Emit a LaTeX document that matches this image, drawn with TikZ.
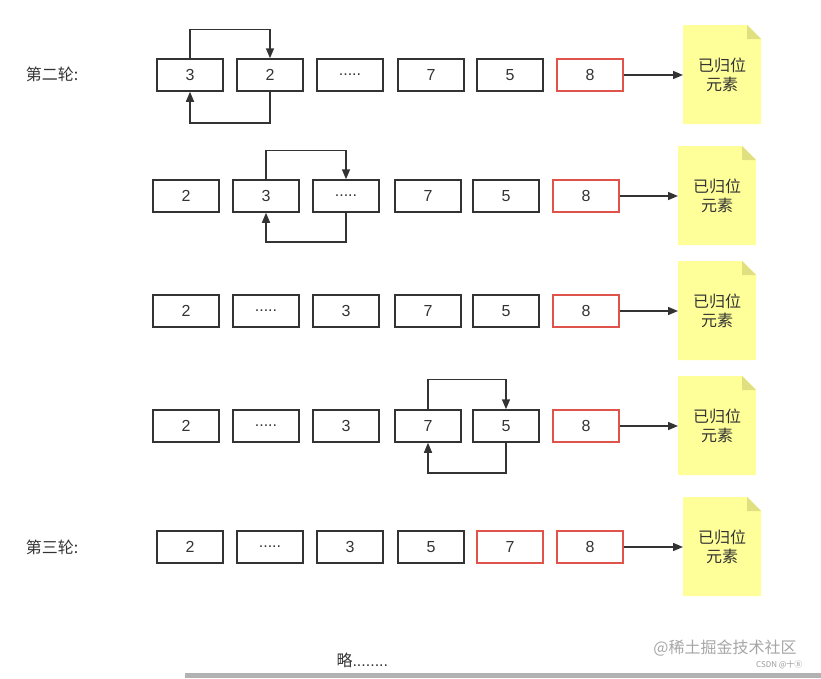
\documentclass[tikz,border=0pt]{standalone}
\usepackage{fontspec}
\setmainfont{Noto Sans CJK SC}
\newfontfamily\latinf{Liberation Sans}
\usetikzlibrary{arrows.meta}
\definecolor{notey}{HTML}{FFFF99}
\definecolor{notefold}{HTML}{E0E080}
\definecolor{redb}{HTML}{E0534A}
\tikzset{
 cell/.style={draw=black!80,line width=1.5pt,minimum width=66pt,minimum height=32pt,inner sep=0pt,font=\latinf\fontsize{16}{18}\selectfont,text=black!80},
 redcell/.style={cell,draw=redb},
 arr/.style={-{Triangle[length=10pt,width=8pt]},line width=1.5pt,draw=black!80},
 lbl/.style={font=\fontsize{16}{19}\selectfont,text=black!80}
}
\newcommand{\notebox}[3]{% name, left x, top y
 \fill[notey] (#2,#3) -- (#2+64,#3) -- (#2+78,#3+14) -- (#2+78,#3+99) -- (#2,#3+99) -- cycle;
 \fill[notefold] (#2+64,#3) -- (#2+78,#3+14) -- (#2+64,#3+14) -- cycle;
 \node[lbl,align=center] (#1) at (#2+39,#3+50) {已归位\\元素};
 \coordinate (#1w) at (#2,#3+50);
}
\begin{document}
\begin{tikzpicture}[x=1pt,y=-1pt]
\useasboundingbox (0,0) rectangle (821,678);
% Row 1
\node[lbl] (l1) at (52,74) {第二轮:};
\node[cell] (a1) at (190,75) {3};
\node[cell] (a2) at (270,75) {2};
\node[cell] (a3) at (350,75) {.....};
\node[cell] (a4) at (431,75) {7};
\node[cell] (a5) at (510,75) {5};
\node[redcell] (a6) at (590,75) {8};
\notebox{n1}{683}{25}
\draw[arr] (a6.east) -- (n1w);
\draw[arr] (a1.north) -- ++(0,-29) -| (a2.north);
\draw[arr] (a2.south) -- ++(0,31) -| (a1.south);
% Row 2
\node[cell] (b1) at (186,196) {2};
\node[cell] (b2) at (266,196) {3};
\node[cell] (b3) at (346,196) {.....};
\node[cell] (b4) at (428,196) {7};
\node[cell] (b5) at (506,196) {5};
\node[redcell] (b6) at (586,196) {8};
\notebox{n2}{678}{146}
\draw[arr] (b6.east) -- (n2w);
\draw[arr] (b2.north) -- ++(0,-29) -| (b3.north);
\draw[arr] (b3.south) -- ++(0,29) -| (b2.south);
% Row 3
\node[cell] (c1) at (186,311) {2};
\node[cell] (c2) at (266,311) {.....};
\node[cell] (c3) at (346,311) {3};
\node[cell] (c4) at (428,311) {7};
\node[cell] (c5) at (506,311) {5};
\node[redcell] (c6) at (586,311) {8};
\notebox{n3}{678}{261}
\draw[arr] (c6.east) -- (n3w);
% Row 4
\node[cell] (d1) at (186,426) {2};
\node[cell] (d2) at (266,426) {.....};
\node[cell] (d3) at (346,426) {3};
\node[cell] (d4) at (428,426) {7};
\node[cell] (d5) at (506,426) {5};
\node[redcell] (d6) at (586,426) {8};
\notebox{n4}{678}{376}
\draw[arr] (d6.east) -- (n4w);
\draw[arr] (d4.north) -- ++(0,-30) -| (d5.north);
\draw[arr] (d5.south) -- ++(0,30) -| (d4.south);
% Row 5
\node[lbl] (l5) at (52,547) {第三轮:};
\node[cell] (e1) at (190,547) {2};
\node[cell] (e2) at (270,547) {.....};
\node[cell] (e3) at (350,547) {3};
\node[cell] (e4) at (431,547) {5};
\node[redcell] (e5) at (510,547) {7};
\node[redcell] (e6) at (590,547) {8};
\notebox{n5}{683}{497}
\draw[arr] (e6.east) -- (n5w);
% footer
\node[lbl,anchor=west] (omit) at (333,660) {略\latinf........};
\fill[black!30] (185,673) rectangle (821,678);
\node[font=\fontsize{16}{18}\selectfont,text=black!35] (wm) at (725,648) {@稀土掘金技术社区};
\node[font=\fontsize{8}{9}\selectfont,text=black!40,anchor=east] (wm2) at (806,665) {CSDN @十⑧};
\end{tikzpicture}
\end{document}
